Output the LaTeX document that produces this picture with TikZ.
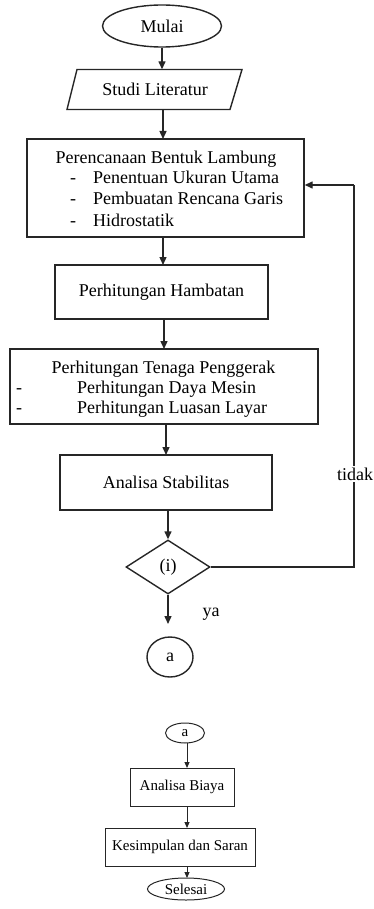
\documentclass[tikz,border=0pt]{standalone}
\usepackage{fontspec}
\setmainfont{Liberation Serif}
\usetikzlibrary{arrows.meta,shapes.geometric,calc}
\begin{document}
\begin{tikzpicture}[x=1pt,y=-1pt,
  every node/.style={font=\fontsize{18}{20.5}\selectfont, inner sep=0pt},
  ln/.style={line width=1.4pt, draw=black!85},
  arr/.style={ln, -{Triangle[length=8pt,width=7pt]}},
  sarr/.style={line width=1pt, draw=black!85, -{Triangle[length=6pt,width=5pt]}},
  box/.style={draw=black!85, line width=1.4pt, rectangle},
  sbox/.style={draw=black!85, line width=1pt, rectangle},
  oval/.style={draw=black!85, line width=1.4pt, ellipse},
  soval/.style={draw=black!85, line width=1pt, ellipse},
  small/.style={font=\fontsize{15}{17}\selectfont}
]
\useasboundingbox (0,0) rectangle (374,909);

% Start
\node[oval, minimum width=119pt, minimum height=42pt] (mulai) at (162,26) {Mulai};

% Parallelogram
\draw[ln] (77,69.5) -- (242,69.5) -- (230,109.5) -- (67,109.5) -- cycle;
\node[minimum width=150pt, minimum height=40pt] (studi) at (155,89.5) {Studi Literatur};

% Box 1
\node[box, minimum width=277pt, minimum height=98pt] (b1) at (165.5,188) {};
\node[anchor=base] (b1h) at (166,164) {Perencanaan Bentuk Lambung};
\node[anchor=base west] (b1d1) at (70,184) {-};
\node[anchor=base west] (b1t1) at (93,184) {Penentuan Ukuran Utama};
\node[anchor=base west] (b1d2) at (70,205) {-};
\node[anchor=base west] (b1t2) at (93,205) {Pembuatan Rencana Garis};
\node[anchor=base west] (b1d3) at (70,226) {-};
\node[anchor=base west] (b1t3) at (93,226) {Hidrostatik};

% Box 2
\node[box, minimum width=213pt, minimum height=54pt] (b2) at (161.5,292) {Perhitungan Hambatan};

% Box 3
\node[box, minimum width=308pt, minimum height=75pt] (b3) at (164,386.5) {};
\node[anchor=base] (b3h) at (163.5,373) {Perhitungan Tenaga Penggerak};
\node[anchor=base west] (b3d1) at (16,393) {-};
\node[anchor=base west] (b3t1) at (77,393) {Perhitungan Daya Mesin};
\node[anchor=base west] (b3d2) at (16,413) {-};
\node[anchor=base west] (b3t2) at (77,413) {Perhitungan Luasan Layar};

% Box 4
\node[box, minimum width=212pt, minimum height=55pt] (b4) at (166,482.5) {Analisa Stabilitas};

% Decision
\node[draw=black!85, line width=1.4pt, diamond, aspect=1.55, minimum width=84pt, minimum height=54pt] (dia) at (168,567) {(i)};

% Connector a
\node[oval, minimum width=46pt, minimum height=40pt] (ca) at (170,657) {a};
\coordinate (yaend) at (168,624);
\node (ya) at (211,614) {ya};

% Main arrows
\draw[arr] (mulai.south) -- (mulai.south |- studi.north);
\draw[arr] (163,109.5) -- (163,139);
\draw[arr] (163,237) -- (163,265);
\draw[arr] (164,319) -- (164,349);
\draw[arr] (166,424) -- (166,455);
\draw[arr] (168,510) -- (dia.north);
\draw[arr] (dia.south) -- (yaend);

% Feedback
\coordinate (fbc) at (354,185);
\draw[ln] (dia.east) -| (fbc);
\draw[arr] (fbc) -- (fbc -| b1.east);
\node[fill=white, inner sep=2pt] (tidak) at (355,474) {tidak};

% Bottom part
\node[soval, small, minimum width=39pt, minimum height=20pt] (sa) at (185,733) {a};
\node[sbox, small, minimum width=104pt, minimum height=38pt] (bi) at (182,787) {Analisa Biaya};
\node[sbox, small, minimum width=150pt, minimum height=38pt] (ks) at (180,847) {Kesimpulan dan Saran};
\node[soval, small, minimum width=77pt, minimum height=22pt] (sel) at (186,889) {Selesai};
\draw[sarr] (187,743) -- (187,768);
\draw[sarr] (187,806) -- (187,828);
\draw[sarr] (187,866) -- (187,878);
\end{tikzpicture}
\end{document}
